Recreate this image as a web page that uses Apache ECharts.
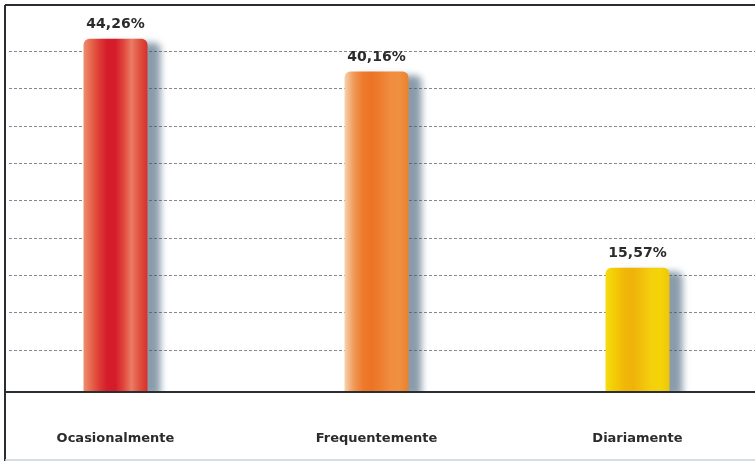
<!DOCTYPE html>
<html>
<head>
<meta charset="utf-8">
<script src="https://cdn.jsdelivr.net/npm/echarts@6/dist/echarts.min.js"></script>
<style>
html, body { margin: 0; padding: 0; background: #fff; }
#main { width: 755px; height: 462px; }
</style>
</head>
<body>
<div id="main"></div>
<script>
// frequência de uso
const categories = ['Ocasionalmente', 'Frequentemente', 'Diariamente'];
const percents = [44.26, 40.16, 15.57];
// linhas pontilhadas de fundo (só decoração, sem rótulos)
const gridSteps = [0, 1, 2, 3, 4, 5, 6, 7, 8];

// degradê horizontal de cada barra
function barGradient(stops) {
    return new echarts.graphic.LinearGradient(0, 0, 1, 0,
        stops.map(function (c, i) { return { offset: i / (stops.length - 1), color: c }; }));
}
const barColors = [
    barGradient(['#ee8d70', '#e6654a', '#dc3a34', '#d41c2b', '#d41c2b', '#e0463c', '#ea7c66', '#e0523f', '#d6302d']),
    barGradient(['#f8d2b0', '#f09a58', '#ee7a2c', '#ec7326', '#ee7e30', '#f08c3e', '#f09040', '#e9822e']),
    barGradient(['#f4dc10', '#f2cc06', '#f0b808', '#f0b20a', '#f2c00a', '#f4d00c', '#f3d40a', '#eec608'])
];

let myChart = echarts.init(document.getElementById('main'));

let seriesData = percents.map(function (v, i) {
    return { value: v, itemStyle: { color: barColors[i] } };
});

myChart.setOption({
    animation: false,
    backgroundColor: '#ffffff',
    grid: [
        { left: -15, width: 783, top: 5, bottom: 70, outerBoundsMode: 'none' },
        { left: 9, right: 0, top: 51, bottom: 112, outerBoundsMode: 'none' }
    ],
    xAxis: [{
        type: 'category',
        gridIndex: 0,
        data: categories,
        z: 10,
        axisLine: { show: true, lineStyle: { color: '#2a2e33', width: 2 } },
        axisTick: { show: false },
        axisLabel: {
            margin: 40,
            color: '#2b2b2b',
            fontSize: 13,
            fontWeight: 'bold',
            fontFamily: 'DejaVu Sans'
        }
    }, {
        type: 'value',
        gridIndex: 1,
        show: false
    }],
    yAxis: [{
        type: 'value',
        gridIndex: 0,
        min: 0,
        max: 48.5,
        show: false,
        splitLine: { show: false }
    }, {
        type: 'value',
        gridIndex: 1,
        min: gridSteps[0],
        max: gridSteps[gridSteps.length - 1],
        interval: 1,
        axisLine: { show: false },
        axisTick: { show: false },
        axisLabel: { show: false },
        splitLine: {
            show: true,
            lineStyle: { color: '#555', type: [3, 2], width: 1, opacity: 0.7 }
        }
    }],
    graphic: [
        { type: 'rect', shape: { x: 0, y: 380, width: 4, height: 20 }, style: { fill: '#fff' }, z: 100 },
        { type: 'rect', shape: { x: 6, y: 393, width: 749, height: 12 }, style: { fill: '#fff' }, z: 90 },
        { type: 'line', shape: { x1: 5, y1: 5, x2: 755, y2: 5 }, style: { stroke: '#2a2e33', lineWidth: 2 }, z: 101 },
        { type: 'line', shape: { x1: 5, y1: 5, x2: 5, y2: 461 }, style: { stroke: '#2a2e33', lineWidth: 2 }, z: 101 },
        { type: 'line', shape: { x1: 5, y1: 460, x2: 755, y2: 460 }, style: { stroke: '#c9d3dc', lineWidth: 1.5 }, z: 101 }
    ],
    series: [{
        type: 'bar',
        xAxisIndex: 0,
        yAxisIndex: 0,
        data: seriesData,
        barWidth: 64,
        z: 5,
        itemStyle: {
            borderRadius: [6, 6, 0, 0],
            shadowColor: 'rgba(60,90,115,0.6)',
            shadowOffsetX: 13,
            shadowOffsetY: 4,
            shadowBlur: 7
        },
        label: {
            show: true,
            position: 'top',
            distance: 7,
            color: '#2b2b2b',
            fontSize: 14,
            fontWeight: 'bold',
            fontFamily: 'DejaVu Sans',
            formatter: function (p) { return p.value.toFixed(2).replace('.', ',') + '%'; }
        }
    }]
});
</script>
</body>
</html>
